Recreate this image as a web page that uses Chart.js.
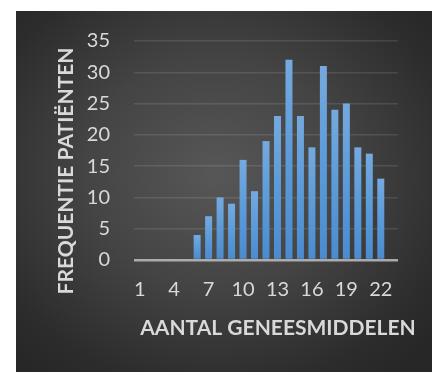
<!DOCTYPE html>
<html>
<head>
<meta charset="utf-8">
<script src="https://cdn.jsdelivr.net/npm/chart.js@4/dist/chart.umd.min.js"></script>
<style>
  html, body { margin: 0; padding: 0; background: #ffffff; }
  #frame {
    position: absolute;
    left: 16px;
    top: 11px;
    width: 416px;
    height: 361px;
    background: radial-gradient(ellipse 70% 70% at 48% 45%, #575757 0%, #444444 45%, #2c2c2c 85%, #272727 100%);
  }
  canvas { display: block; }
</style>
</head>
<body>
<div id="frame"><canvas id="chart" width="416" height="361"></canvas></div>
<script>
// number of medicines per patient (1..23) and how many patients had that count
const categories = ["1","2","3","4","5","6","7","8","9","10","11","12","13","14","15","16","17","18","19","20","21","22","23"];
const patients = [0, 0, 0, 0, 0, 4, 7, 10, 9, 16, 11, 19, 23, 32, 23, 18, 31, 24, 25, 18, 17, 13, 0];
const xTitle = "AANTAL GENEESMIDDELEN";
const yTitle = "FREQUENTIE PATIËNTEN";

const textColor = "#d9d9d9";

// axis titles sit a little off-centre, so they are drawn here instead of by the scales
const axisTitles = {
  id: "axisTitles",
  afterDraw(chart) {
    const ctx = chart.ctx;
    ctx.save();
    ctx.fillStyle = textColor;
    ctx.font = "bold 21px Lato";
    ctx.textAlign = "center";
    ctx.textBaseline = "middle";
    ctx.fillText(xTitle, 262, 317);
    ctx.translate(50, 160);
    ctx.rotate(-Math.PI / 2);
    ctx.fillText(yTitle, 0, 0);
    ctx.restore();
  }
};

function barFill(context) {
  const chart = context.chart;
  const value = context.parsed ? context.parsed.y : 0;
  if (!chart.chartArea || !value) return "#5b9bd5";
  const y = chart.scales.y;
  const top = y.getPixelForValue(value);
  const base = y.getPixelForValue(0);
  const g = chart.ctx.createLinearGradient(0, top, 0, base);
  g.addColorStop(0, "#75a9df");
  g.addColorStop(0.5, "#5b9bd9");
  g.addColorStop(1, "#4a8bd0");
  return g;
}

new Chart(document.getElementById("chart"), {
  type: "bar",
  data: {
    labels: categories,
    datasets: [{
      data: patients,
      backgroundColor: barFill,
      borderWidth: 0,
      categoryPercentage: 1,
      barPercentage: 0.61
    }]
  },
  options: {
    responsive: false,
    animation: false,
    layout: { padding: { left: 38, right: 34, top: 0, bottom: 0 } },
    plugins: {
      legend: { display: false },
      tooltip: { enabled: false }
    },
    scales: {
      x: {
        grid: { display: false, drawTicks: false },
        border: { display: false },
        ticks: {
          color: textColor,
          font: { family: "Lato", size: 20 },
          padding: 18,
          maxRotation: 0,
          autoSkip: false,
          callback: function (val, i) {
            return i % 3 === 0 ? categories[i] : "";
          }
        },
        afterFit(scale) { scale.height = 361 - 249; }
      },
      y: {
        min: 0,
        max: 35,
        grid: {
          drawTicks: false,
          color: (c) => c.tick && c.tick.value === 0 ? "rgba(190,190,190,0.85)" : "rgba(255,255,255,0.11)",
          lineWidth: (c) => c.tick && c.tick.value === 0 ? 2.5 : 1.5
        },
        border: { display: false },
        ticks: {
          stepSize: 5,
          color: textColor,
          font: { family: "Lato", size: 20 },
          padding: 24
        },
        afterFit(scale) {
          scale.width = 118 - 38;
          // tick padding is horizontal spacing here; keep it out of the top margin
          scale.paddingTop = 30;
        }
      }
    }
  },
  plugins: [axisTitles]
});
</script>
</body>
</html>
